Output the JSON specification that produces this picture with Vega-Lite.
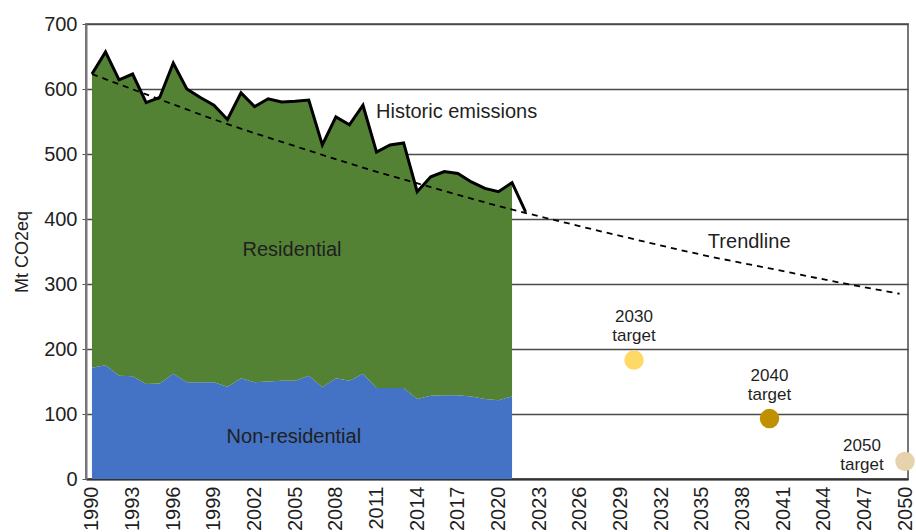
{
  "$schema": "https://vega.github.io/schema/vega-lite/v6.json",
  "width": 822,
  "height": 455,
  "autosize": {"type": "none"},
  "padding": {"left": 86, "top": 24, "right": 8, "bottom": 53},
  "background": "white",
  "config": {
    "font": "Liberation Sans",
    "view": {"stroke": "#777777", "strokeWidth": 2},
    "text": {"font": "Liberation Sans", "color": "#1f1f1f"}
  },
  "datasets": {
    "sectors": [
      {"year": 1990, "sector": "Non-residential", "value": 171}, {"year": 1990, "sector": "Residential", "value": 452},
      {"year": 1991, "sector": "Non-residential", "value": 175}, {"year": 1991, "sector": "Residential", "value": 482},
      {"year": 1992, "sector": "Non-residential", "value": 159}, {"year": 1992, "sector": "Residential", "value": 455},
      {"year": 1993, "sector": "Non-residential", "value": 158}, {"year": 1993, "sector": "Residential", "value": 465},
      {"year": 1994, "sector": "Non-residential", "value": 146}, {"year": 1994, "sector": "Residential", "value": 433},
      {"year": 1995, "sector": "Non-residential", "value": 147}, {"year": 1995, "sector": "Residential", "value": 440},
      {"year": 1996, "sector": "Non-residential", "value": 162}, {"year": 1996, "sector": "Residential", "value": 478},
      {"year": 1997, "sector": "Non-residential", "value": 149}, {"year": 1997, "sector": "Residential", "value": 451},
      {"year": 1998, "sector": "Non-residential", "value": 149}, {"year": 1998, "sector": "Residential", "value": 438},
      {"year": 1999, "sector": "Non-residential", "value": 149}, {"year": 1999, "sector": "Residential", "value": 426},
      {"year": 2000, "sector": "Non-residential", "value": 142}, {"year": 2000, "sector": "Residential", "value": 411},
      {"year": 2001, "sector": "Non-residential", "value": 155}, {"year": 2001, "sector": "Residential", "value": 439},
      {"year": 2002, "sector": "Non-residential", "value": 149}, {"year": 2002, "sector": "Residential", "value": 424},
      {"year": 2003, "sector": "Non-residential", "value": 150}, {"year": 2003, "sector": "Residential", "value": 435},
      {"year": 2004, "sector": "Non-residential", "value": 151}, {"year": 2004, "sector": "Residential", "value": 429},
      {"year": 2005, "sector": "Non-residential", "value": 151}, {"year": 2005, "sector": "Residential", "value": 430},
      {"year": 2006, "sector": "Non-residential", "value": 159}, {"year": 2006, "sector": "Residential", "value": 424},
      {"year": 2007, "sector": "Non-residential", "value": 141}, {"year": 2007, "sector": "Residential", "value": 373},
      {"year": 2008, "sector": "Non-residential", "value": 155}, {"year": 2008, "sector": "Residential", "value": 402},
      {"year": 2009, "sector": "Non-residential", "value": 151}, {"year": 2009, "sector": "Residential", "value": 394},
      {"year": 2010, "sector": "Non-residential", "value": 162}, {"year": 2010, "sector": "Residential", "value": 413},
      {"year": 2011, "sector": "Non-residential", "value": 140}, {"year": 2011, "sector": "Residential", "value": 363},
      {"year": 2012, "sector": "Non-residential", "value": 140}, {"year": 2012, "sector": "Residential", "value": 374},
      {"year": 2013, "sector": "Non-residential", "value": 140}, {"year": 2013, "sector": "Residential", "value": 377},
      {"year": 2014, "sector": "Non-residential", "value": 123}, {"year": 2014, "sector": "Residential", "value": 319},
      {"year": 2015, "sector": "Non-residential", "value": 128}, {"year": 2015, "sector": "Residential", "value": 337},
      {"year": 2016, "sector": "Non-residential", "value": 129}, {"year": 2016, "sector": "Residential", "value": 344},
      {"year": 2017, "sector": "Non-residential", "value": 129}, {"year": 2017, "sector": "Residential", "value": 341},
      {"year": 2018, "sector": "Non-residential", "value": 127}, {"year": 2018, "sector": "Residential", "value": 330},
      {"year": 2019, "sector": "Non-residential", "value": 123}, {"year": 2019, "sector": "Residential", "value": 324},
      {"year": 2020, "sector": "Non-residential", "value": 121}, {"year": 2020, "sector": "Residential", "value": 321},
      {"year": 2021, "sector": "Non-residential", "value": 127}, {"year": 2021, "sector": "Residential", "value": 329}
    ],
    "historic": [
      {"year": 1990, "value": 623}, {"year": 1991, "value": 657}, {"year": 1992, "value": 614}, {"year": 1993, "value": 623},
      {"year": 1994, "value": 579}, {"year": 1995, "value": 587}, {"year": 1996, "value": 640}, {"year": 1997, "value": 600},
      {"year": 1998, "value": 587}, {"year": 1999, "value": 575}, {"year": 2000, "value": 553}, {"year": 2001, "value": 594},
      {"year": 2002, "value": 573}, {"year": 2003, "value": 585}, {"year": 2004, "value": 580}, {"year": 2005, "value": 581},
      {"year": 2006, "value": 583}, {"year": 2007, "value": 514}, {"year": 2008, "value": 557}, {"year": 2009, "value": 545},
      {"year": 2010, "value": 575}, {"year": 2011, "value": 503}, {"year": 2012, "value": 514}, {"year": 2013, "value": 517},
      {"year": 2014, "value": 442}, {"year": 2015, "value": 465}, {"year": 2016, "value": 473}, {"year": 2017, "value": 470},
      {"year": 2018, "value": 457}, {"year": 2019, "value": 447}, {"year": 2020, "value": 442}, {"year": 2021, "value": 456},
      {"year": 2022, "value": 411}
    ],
    "trend": [
      {"year": 1990, "value": 623}, {"year": 1995, "value": 584}, {"year": 2000, "value": 546}, {"year": 2005, "value": 512},
      {"year": 2010, "value": 479}, {"year": 2015, "value": 449}, {"year": 2020, "value": 420}, {"year": 2025, "value": 394},
      {"year": 2030, "value": 369}, {"year": 2035, "value": 345}, {"year": 2040, "value": 324}, {"year": 2045, "value": 303},
      {"year": 2049.6, "value": 285}
    ],
    "targets": [
      {"year": 2030, "value": 183, "target": "2030", "label": "2030\ntarget"},
      {"year": 2040, "value": 93, "target": "2040", "label": "2040\ntarget"},
      {"year": 2050, "value": 27, "target": "2050", "label": "2050\ntarget"}
    ]
  },
  "layer": [
    {
      "encoding": {
        "x": {
          "field": "year",
          "type": "quantitative",
          "scale": {"domain": [1989.56, 2050.22], "nice": false, "zero": false},
          "axis": {
            "title": null,
            "values": [1990, 1993, 1996, 1999, 2002, 2005, 2008, 2011, 2014, 2017, 2020, 2023, 2026, 2029, 2032, 2035, 2038, 2041, 2044, 2047, 2050],
            "format": "d",
            "labelAngle": -90,
            "labelOverlap": false,
            "labelFontSize": 20,
            "labelColor": "#1f1f1f",
            "labelPadding": 7,
            "ticks": false,
            "grid": false,
            "domainColor": "#333333",
            "domainWidth": 2
          }
        },
        "y": {
          "field": "value",
          "type": "quantitative",
          "scale": {"domain": [0, 700], "nice": false},
          "axis": {
            "title": "Mt CO2eq",
            "titleFontSize": 18,
            "titleFontWeight": "normal",
            "titleColor": "#1f1f1f",
            "titlePadding": 12,
            "values": [0, 100, 200, 300, 400, 500, 600, 700],
            "labelFontSize": 20,
            "labelColor": "#1f1f1f",
            "labelPadding": 5,
            "tickSize": 4,
            "tickColor": "#555555",
            "grid": true,
            "gridColor": "#4a4a4a",
            "gridWidth": 1.5,
            "domainColor": "#777777",
            "domainWidth": 2
          }
        }
      },
      "layer": [
        {
          "data": {"name": "sectors"},
          "mark": {"type": "area", "opacity": 1},
          "encoding": {
            "y": {"field": "value", "type": "quantitative", "stack": "zero"},
            "color": {
              "field": "sector",
              "type": "nominal",
              "scale": {"domain": ["Non-residential", "Residential"], "range": ["#4472C4", "#548235"]},
              "legend": null
            },
            "order": {"field": "sector", "sort": "ascending"}
          }
        },
        {
          "data": {"name": "historic"},
          "mark": {"type": "line", "color": "#000000", "strokeWidth": 3, "strokeJoin": "miter"},
          "encoding": {}
        },
        {
          "data": {"name": "trend"},
          "mark": {"type": "line", "color": "#000000", "strokeWidth": 1.8, "strokeDash": [6, 5], "interpolate": "monotone"},
          "encoding": {}
        },
        {
          "data": {"name": "targets"},
          "mark": {"type": "circle", "size": 380, "opacity": 1},
          "encoding": {
            "fill": {
              "field": "target",
              "type": "nominal",
              "scale": {"domain": ["2030", "2040", "2050"], "range": ["#FFD966", "#BF9000", "#E7D2AE"]},
              "legend": null
            }
          }
        },
        {
          "data": {"name": "targets"},
          "transform": [{"filter": "datum.year < 2045"}],
          "mark": {"type": "text", "fontSize": 17, "lineBreak": "\n", "lineHeight": 19, "align": "center", "baseline": "alphabetic", "dy": -38},
          "encoding": {"text": {"field": "label"}}
        },
        {
          "data": {"name": "targets"},
          "transform": [{"filter": "datum.year > 2045"}],
          "mark": {"type": "text", "fontSize": 17, "lineBreak": "\n", "lineHeight": 19, "align": "center", "baseline": "alphabetic", "dx": -43, "dy": -10},
          "encoding": {"text": {"field": "label"}}
        }
      ]
    },
    {
      "data": {"values": [{}]},
      "mark": {"type": "text", "fontSize": 20, "align": "left", "baseline": "middle"},
      "encoding": {"x": {"datum": 2010.96}, "y": {"datum": 565}, "text": {"value": "Historic emissions"}}
    },
    {
      "data": {"values": [{}]},
      "mark": {"type": "text", "fontSize": 20, "align": "center", "baseline": "middle"},
      "encoding": {"x": {"datum": 2004.76}, "y": {"datum": 353}, "text": {"value": "Residential"}}
    },
    {
      "data": {"values": [{}]},
      "mark": {"type": "text", "fontSize": 20, "align": "center", "baseline": "middle"},
      "encoding": {"x": {"datum": 2004.9}, "y": {"datum": 64}, "text": {"value": "Non-residential"}}
    },
    {
      "data": {"values": [{}]},
      "mark": {"type": "text", "fontSize": 20, "align": "center", "baseline": "middle"},
      "encoding": {"x": {"datum": 2038.5}, "y": {"datum": 365}, "text": {"value": "Trendline"}}
    }
  ]
}
